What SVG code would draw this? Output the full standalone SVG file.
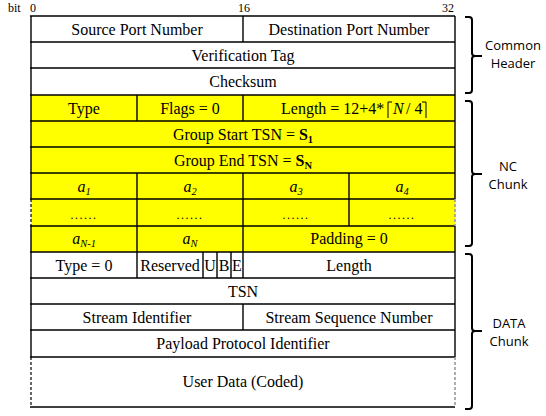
<svg xmlns="http://www.w3.org/2000/svg" width="546" height="416" viewBox="0 0 546 416">
<rect width="546" height="416" fill="#fff"/>
<g id="bits" font-family="Liberation Serif" font-size="12">
<text font-family="Liberation Serif" font-size="12" x="8" y="12">bit</text>
<text font-family="Liberation Serif" font-size="12" x="30" y="12">0</text>
<text font-family="Liberation Serif" font-size="12" x="244" y="12" text-anchor="middle">16</text>
<text font-family="Liberation Serif" font-size="12" x="448" y="12" text-anchor="middle">32</text>
</g>
<rect x="31" y="95" width="424" height="157" fill="#ffff00"/>
<g id="grid" fill="none">
<path stroke="#000" stroke-width="1.4" d="M30,16H455M30,42H455M30,68H455M30,95H455M30,121H455M30,147H455M30,173H455M30,199H455M30,226H455M30,252H455M30,278H455M30,304H455M30,330H455M30,357H455M30,407H455"/>
<path stroke="#000" stroke-width="1.4" d="M31,16V199M31,226V357M455,16V199M455,226V357"/>
<path stroke="#000" stroke-width="1.2" stroke-dasharray="3 2" d="M31,199V226M31,357V407"/>
<path stroke="#999" stroke-width="1.6" stroke-dasharray="3 2" d="M455,199V226M455,357V407"/>
<path stroke="#000" stroke-width="1.4" d="M243,16V42M243,95V121M243,173V278M243,304V330M137,95V121M137,173V278M349,173V226M203,252V278M217,252V278M231,252V278"/>
</g>
<g id="fields" font-family="Liberation Serif" font-size="16" text-anchor="middle">
<g id="src-port"><text font-family="Liberation Serif" font-size="16" text-anchor="middle" x="137" y="35">Source Port Number</text></g>
<g id="dst-port"><text font-family="Liberation Serif" font-size="16" text-anchor="middle" x="349" y="35">Destination Port Number</text></g>
<g id="vtag"><text font-family="Liberation Serif" font-size="16" text-anchor="middle" x="243" y="61">Verification Tag</text></g>
<g id="checksum"><text font-family="Liberation Serif" font-size="16" text-anchor="middle" x="243" y="87">Checksum</text></g>
<g id="nc-type"><text font-family="Liberation Serif" font-size="16" text-anchor="middle" x="84" y="114">Type</text></g>
<g id="nc-flags"><text font-family="Liberation Serif" font-size="16" text-anchor="middle" x="190" y="114">Flags = 0</text></g>
<g id="nc-length">
<text font-family="Liberation Serif" font-size="16" text-anchor="start" x="281" y="114">Length = 12+4*</text>
<path stroke="#000" stroke-width="1" fill="none" d="M392,102H388V118"/>
<text font-family="Liberation Serif" font-size="16" font-style="italic" text-anchor="start" x="393" y="114">N</text>
<text font-family="Liberation Serif" font-size="16" text-anchor="start" x="406" y="114">/ 4</text>
<path stroke="#000" stroke-width="1" fill="none" d="M422,102H426V118"/>
</g>
<g id="gstart"><text font-family="Liberation Serif" font-size="16" text-anchor="middle" x="243" y="140">Group Start TSN = <tspan font-weight="bold">S<tspan font-size="10.5" dy="3">1</tspan></tspan></text></g>
<g id="gend"><text font-family="Liberation Serif" font-size="16" text-anchor="middle" x="243" y="166">Group End TSN = <tspan font-weight="bold">S<tspan font-size="10.5" dy="3">N</tspan></tspan></text></g>
<g id="a1"><text font-family="Liberation Serif" font-size="16" font-style="italic" text-anchor="middle" x="84" y="192">a<tspan font-size="10.5" dy="3">1</tspan></text></g>
<g id="a2"><text font-family="Liberation Serif" font-size="16" font-style="italic" text-anchor="middle" x="190" y="192">a<tspan font-size="10.5" dy="3">2</tspan></text></g>
<g id="a3"><text font-family="Liberation Serif" font-size="16" font-style="italic" text-anchor="middle" x="296" y="192">a<tspan font-size="10.5" dy="3">3</tspan></text></g>
<g id="a4"><text font-family="Liberation Serif" font-size="16" font-style="italic" text-anchor="middle" x="402" y="192">a<tspan font-size="10.5" dy="3">4</tspan></text></g>
<g id="dots1"><text font-family="Liberation Serif" font-size="12" letter-spacing="1.5" text-anchor="middle" x="84" y="219">......</text></g>
<g id="dots2"><text font-family="Liberation Serif" font-size="12" letter-spacing="1.5" text-anchor="middle" x="190" y="219">......</text></g>
<g id="dots3"><text font-family="Liberation Serif" font-size="12" letter-spacing="1.5" text-anchor="middle" x="296" y="219">......</text></g>
<g id="dots4"><text font-family="Liberation Serif" font-size="12" letter-spacing="1.5" text-anchor="middle" x="402" y="219">......</text></g>
<g id="aN1"><text font-family="Liberation Serif" font-size="16" font-style="italic" text-anchor="middle" x="84" y="244">a<tspan font-size="10.5" dy="3">N-1</tspan></text></g>
<g id="aN"><text font-family="Liberation Serif" font-size="16" font-style="italic" text-anchor="middle" x="190" y="244">a<tspan font-size="10.5" dy="3">N</tspan></text></g>
<g id="padding"><text font-family="Liberation Serif" font-size="16" text-anchor="middle" x="349" y="244">Padding = 0</text></g>
<g id="d-type"><text font-family="Liberation Serif" font-size="16" text-anchor="middle" x="84" y="271">Type = 0</text></g>
<g id="d-reserved"><text font-family="Liberation Serif" font-size="16" text-anchor="middle" x="170" y="271">Reserved</text></g>
<g id="d-u"><text font-family="Liberation Serif" font-size="16" text-anchor="middle" x="210" y="271">U</text></g>
<g id="d-b"><text font-family="Liberation Serif" font-size="16" text-anchor="middle" x="224" y="271">B</text></g>
<g id="d-e"><text font-family="Liberation Serif" font-size="16" text-anchor="middle" x="237" y="271">E</text></g>
<g id="d-length"><text font-family="Liberation Serif" font-size="16" text-anchor="middle" x="349" y="271">Length</text></g>
<g id="tsn"><text font-family="Liberation Serif" font-size="16" text-anchor="middle" x="243" y="297">TSN</text></g>
<g id="sid"><text font-family="Liberation Serif" font-size="16" text-anchor="middle" x="137" y="323">Stream Identifier</text></g>
<g id="ssn"><text font-family="Liberation Serif" font-size="16" text-anchor="middle" x="349" y="323">Stream Sequence Number</text></g>
<g id="ppid"><text font-family="Liberation Serif" font-size="16" text-anchor="middle" x="243" y="349">Payload Protocol Identifier</text></g>
<g id="userdata"><text font-family="Liberation Serif" font-size="16" text-anchor="middle" x="243" y="387">User Data (Coded)</text></g>
</g>
<g id="connectors" stroke="#000" stroke-width="2" fill="none">
<path d="M465,17H469Q472,17 472,20V53Q472,56 475,56H482M475,56Q472,56 472,59V90Q472,93 469,93H465"/>
<path d="M465,101H469Q472,101 472,104V171Q472,174 475,174H482M475,174Q472,174 472,177V243Q472,246 469,246H465"/>
<path d="M465,254H469Q472,254 472,257V328Q472,331 475,331H482M475,331Q472,331 472,334V406Q472,409 469,409H465"/>
</g>
<g id="labels" font-family="Open Sans" font-size="13" text-anchor="middle">
<g id="label-common"><text font-family="Open Sans" font-size="13" text-anchor="middle" x="513" y="50">Common</text><text font-family="Open Sans" font-size="13" text-anchor="middle" x="513" y="68">Header</text></g>
<g id="label-nc"><text font-family="Open Sans" font-size="13" text-anchor="middle" x="508" y="171">NC</text><text font-family="Open Sans" font-size="13" text-anchor="middle" x="508" y="189">Chunk</text></g>
<g id="label-data"><text font-family="Open Sans" font-size="13" text-anchor="middle" x="509" y="328">DATA</text><text font-family="Open Sans" font-size="13" text-anchor="middle" x="509" y="346">Chunk</text></g>
</g>
</svg>
